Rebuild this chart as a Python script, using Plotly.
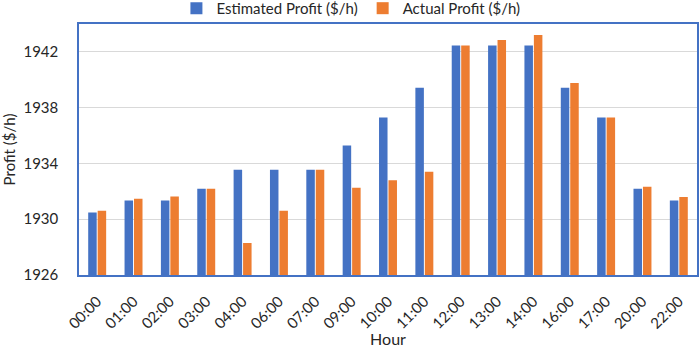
import plotly.graph_objects as go

hours = ["00:00", "01:00", "02:00", "03:00", "04:00", "06:00", "07:00", "09:00", "10:00",
         "11:00", "12:00", "13:00", "14:00", "16:00", "17:00", "20:00", "22:00"]
estimated = [1930.48, 1931.34, 1931.34, 1932.18, 1933.54, 1933.54, 1933.54, 1935.29, 1937.3,
             1939.43, 1942.45, 1942.45, 1942.45, 1939.43, 1937.3, 1932.18, 1931.34]
actual = [1930.6, 1931.46, 1931.63, 1932.18, 1928.3, 1930.6, 1933.54, 1932.25, 1932.8,
          1933.4, 1942.45, 1942.86, 1943.22, 1939.77, 1937.3, 1932.32, 1931.6]
y_ticks = [1926, 1930, 1934, 1938, 1942]

FONT = "Lato"
fig = go.Figure()
fig.add_trace(go.Bar(x=hours, y=estimated, name="Estimated Profit ($/h)",
                     marker=dict(color="#4472C4", line=dict(width=0))))
fig.add_trace(go.Bar(x=hours, y=actual, name="Actual Profit ($/h)",
                     marker=dict(color="#ED7D31", line=dict(width=0))))

fig.update_layout(
    width=699, height=348,
    margin=dict(l=79, r=2, t=24, b=73, autoexpand=False),
    paper_bgcolor="white", plot_bgcolor="white",
    barmode="group", bargap=0.48, bargroupgap=0.1,
    font=dict(family=FONT, size=15, color="#262626"),
    legend=dict(orientation="h", x=0.44, xanchor="center", y=1.062, yanchor="middle",
                font=dict(size=15), traceorder="normal", itemwidth=30,
                bgcolor="rgba(0,0,0,0)"),
    showlegend=True,
)
fig.update_yaxes(range=[1926, 1944], tickvals=y_ticks, showgrid=True, gridcolor="#D9D9D9",
                 gridwidth=1, zeroline=False, showline=True, linecolor="#4472C4", mirror=True,
                 linewidth=1.5, ticks="", tickfont=dict(size=15), ticklabelstandoff=16,
                 title=dict(text="Profit ($/h)", font=dict(size=15), standoff=10))
fig.update_xaxes(showline=True, linecolor="#4472C4", mirror=True, linewidth=1.5,
                 tickangle=-45, tickfont=dict(size=15), ticks="", ticklabelstandoff=10,
                 title=dict(text="Hour", font=dict(size=16), standoff=2))

fig.write_html("out.html", config={"displayModeBar": False},
               post_script="document.body.style.margin='0';")
